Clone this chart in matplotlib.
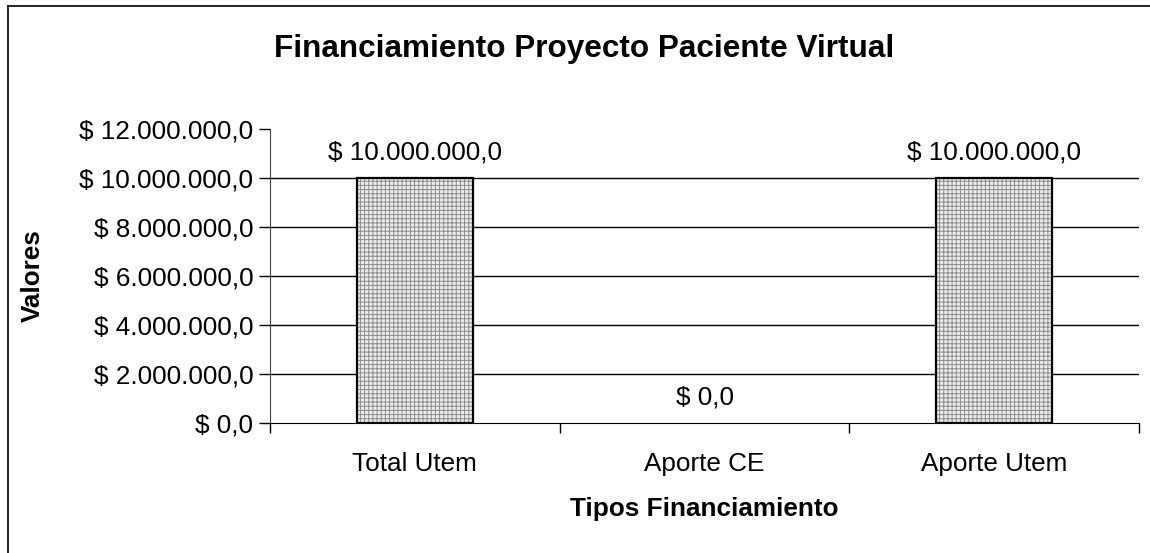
import numpy as np
import matplotlib.pyplot as plt
from matplotlib.lines import Line2D

categorias = ['Total Utem', 'Aporte CE', 'Aporte Utem']
valores = [10000000, 0, 10000000]
ticks_y = [0, 2000000, 4000000, 6000000, 8000000, 10000000, 12000000]


def formato_peso(v):
    # formato tipo Excel: $ 10.000.000,0
    s = '{:,.1f}'.format(v)
    s = s.replace(',', '#').replace('.', ',').replace('#', '.')
    return '$ ' + s


plt.rcParams['font.family'] = ['Liberation Sans', 'DejaVu Sans']
plt.rcParams['hatch.linewidth'] = 0.7

W, H = 1150, 553
fs = 18.8
fig = plt.figure(figsize=(W / 100, H / 100), dpi=100)
ax = fig.add_axes([270 / W, 1 - 423 / H, (1139 - 270) / W, (423 - 129) / H])

x = np.arange(len(categorias))
# relleno punteado gris + borde negro (la barra en cero no se dibuja)
ax.bar(x, valores, width=0.40, color='#ececec', edgecolor='#8c8c8c',
       hatch='++++', linewidth=0, zorder=3)
for xi, v in zip(x, valores):
    if v > 0:
        ax.bar(xi, v, width=0.40, fill=False, edgecolor='black',
               linewidth=1.6, zorder=4)

for xi, v in zip(x, valores):
    ax.text(xi, v + 560000, formato_peso(v), ha='center', va='bottom',
            fontsize=fs)

ax.set_xlim(-0.5, len(categorias) - 0.5)
ax.set_ylim(0, 12000000)
ax.set_yticks(ticks_y)
ax.set_yticklabels([formato_peso(t) for t in ticks_y], fontsize=fs)

ax.set_xticks(x)
ax.set_xticklabels(categorias, fontsize=fs)
ax.tick_params(axis='x', length=0, pad=21)
ax.set_xticks(np.arange(-0.5, len(categorias)), minor=True)
ax.tick_params(axis='x', which='minor', length=7, direction='out', width=1)
ax.tick_params(axis='y', length=8, direction='out', width=1, pad=4)

for t in ticks_y[1:-1]:
    ax.axhline(t, color='black', linewidth=1, zorder=1)

for s in ['top', 'right']:
    ax.spines[s].set_visible(False)
ax.spines['left'].set_color('#444444')
ax.spines['bottom'].set_color('black')

ax.set_ylabel('Valores', fontsize=fs, fontweight='bold', labelpad=25)
ax.set_xlabel('Tipos Financiamiento', fontsize=fs, fontweight='bold',
              labelpad=15)
fig.text(584 / W, 1 - 49 / H, 'Financiamiento Proyecto Paciente Virtual',
         ha='center', va='center', fontsize=22.7, fontweight='bold')

# borde del area del grafico
fig.add_artist(Line2D([8 / W, 8 / W], [0, 1 - 6 / H], color='black',
                      linewidth=1.2, transform=fig.transFigure))
fig.add_artist(Line2D([8 / W, 1], [1 - 6 / H, 1 - 6 / H], color='black',
                      linewidth=1.2, transform=fig.transFigure))

fig.savefig('out.png', dpi=100)
